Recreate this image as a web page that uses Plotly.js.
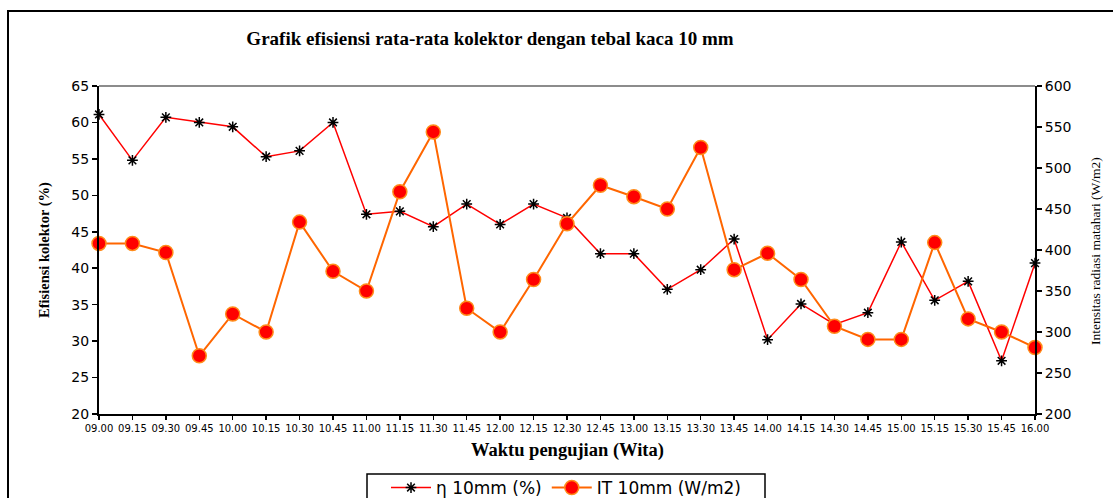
<!DOCTYPE html>
<html>
<head>
<meta charset="utf-8">
<script src="https://cdn.plot.ly/plotly-3.0.1.min.js"></script>
<style>html,body{margin:0;padding:0;background:#fff;}#chart{width:1113px;height:498px;}</style>
</head>
<body>
<div id="chart"></div>
<script>
const times = ["09.00","09.15","09.30","09.45","10.00","10.15","10.30","10.45","11.00","11.15","11.30","11.45","12.00","12.15","12.30","12.45","13.00","13.15","13.30","13.45","14.00","14.15","14.30","14.45","15.00","15.15","15.30","15.45","16.00"];
const eta10 = [61.1,54.8,60.7,60.0,59.4,55.3,56.1,60.0,47.4,47.8,45.7,48.8,46.0,48.8,46.9,42.0,42.0,37.1,39.8,44.0,30.2,35.1,32.3,33.9,43.6,35.6,38.2,27.3,40.7];
const it10 = [408,408,397,271,322,300,434,374,350,471,544,329,300,364,432,479,465,450,525,376,396,364,307,291,291,409,316,300,281];

const W = 1113, H = 498;
const L = 99, R = 1035, T = 86, B = 414;
const pw = R - L, ph = B - T;
const px = x => (x - L) / pw;
const py = y => (B - y) / ph;
const SANS = "DejaVu Sans";
const SERIF = "Liberation Serif";

const traces = [
  {
    x: times, y: eta10, name: "η 10mm (%)", type: "scatter", mode: "lines+markers",
    line: {color: "#ff0000", width: 1.5},
    marker: {symbol: "asterisk-open", size: 9, color: "#000", line: {color: "#000", width: 1.5}},
    cliponaxis: false, yaxis: "y"
  },
  {
    x: times, y: it10, name: "IT 10mm (W/m2)", type: "scatter", mode: "lines+markers",
    line: {color: "#ff6600", width: 2},
    marker: {symbol: "circle", size: 14, color: "#ff0000", line: {color: "#ff8c1a", width: 1.5}},
    cliponaxis: false, yaxis: "y2"
  }
];

const layout = {
  width: W, height: H,
  margin: {l: L, r: W - R, t: T, b: H - B, autoexpand: false},
  paper_bgcolor: "#fff", plot_bgcolor: "#fff",
  showlegend: true,
  title: {
    text: "Grafik efisiensi rata-rata kolektor dengan tebal kaca 10 mm",
    font: {family: SERIF, size: 19, color: "#000", weight: "bold"},
    xref: "container", yref: "container", x: 490 / W, y: 1 - 38 / H, xanchor: "center", yanchor: "middle"
  },
  xaxis: {
    type: "category", range: [0, times.length - 1], autorange: false,
    showline: true, linecolor: "#000", linewidth: 2,
    ticks: "outside", ticklen: 4, tickwidth: 1.5, tickcolor: "#000",
    showgrid: false, zeroline: false,
    tickfont: {family: SANS, size: 10, color: "#000"},
    tickangle: 0
  },
  yaxis: {
    range: [20, 65], autorange: false, dtick: 5,
    showline: true, linecolor: "#000", linewidth: 2,
    ticks: "outside", ticklen: 5, tickwidth: 1.5, tickcolor: "#000",
    showgrid: false, zeroline: false,
    tickfont: {family: SANS, size: 14, color: "#000"}
  },
  yaxis2: {
    overlaying: "y", side: "right",
    range: [200, 600], autorange: false, dtick: 50,
    showline: true, linecolor: "#000", linewidth: 2,
    ticks: "outside", ticklen: 5, tickwidth: 1.5, tickcolor: "#000",
    showgrid: false, zeroline: false,
    tickfont: {family: SANS, size: 14, color: "#000"}
  },
  legend: {
    orientation: "h", x: px(566), xanchor: "center", y: py(470), yanchor: "top",
    borderwidth: 0, bgcolor: "rgba(0,0,0,0)",
    font: {family: SANS, size: 17, color: "#000"},
    itemwidth: 40
  },
  annotations: [
    {text: "<b>Efisiensi kolektor (%)</b>", xref: "paper", yref: "paper", x: px(44), y: py(250),
     showarrow: false, textangle: -90, xanchor: "center", yanchor: "middle",
     font: {family: SERIF, size: 14.5, color: "#000"}},
    {text: "Intensitas radiasi matahari (W/m2)", xref: "paper", yref: "paper", x: px(1095), y: py(251),
     showarrow: false, textangle: -90, xanchor: "center", yanchor: "middle",
     font: {family: SERIF, size: 13.5, color: "#000"}},
    {text: "<b>Waktu pengujian (Wita)</b>", xref: "paper", yref: "paper", x: px(567), y: py(450),
     showarrow: false, xanchor: "center", yanchor: "middle",
     font: {family: SERIF, size: 18.5, color: "#000"}}
  ],
  shapes: [
    {type: "line", xref: "paper", yref: "paper", x0: 0, x1: 1, y0: 1, y1: 1,
     line: {color: "#666", width: 1.5}},
    {type: "rect", xref: "paper", yref: "paper", x0: px(8), x1: px(1130), y0: py(11), y1: py(530),
     line: {color: "#000", width: 2}, fillcolor: "rgba(0,0,0,0)", layer: "below"},
    {type: "rect", xref: "paper", yref: "paper", x0: px(367), x1: px(765), y0: py(474), y1: py(520),
     line: {color: "#000", width: 1.5}, fillcolor: "rgba(0,0,0,0)", layer: "below"}
  ]
};

Plotly.newPlot("chart", traces, layout, {displayModeBar: false, staticPlot: true});
</script>
</body>
</html>
